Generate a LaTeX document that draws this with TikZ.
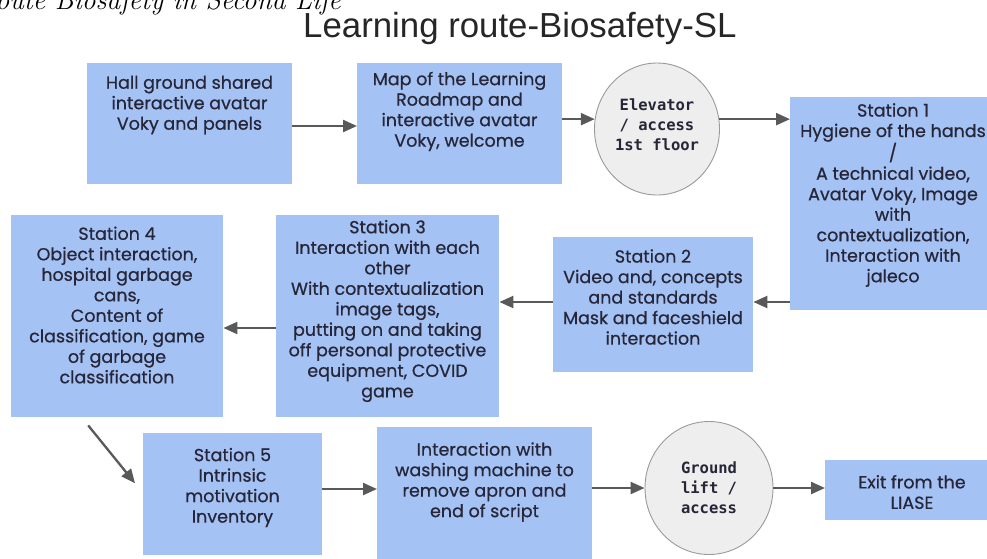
\documentclass[tikz,border=0pt]{standalone}
\usepackage{fontspec}
\newfontfamily\boxfont{Poppins}[FakeBold=0.6]
\newfontfamily\titlefont{Liberation Sans}
\newfontfamily\monofont{DejaVu Sans Mono}
\usetikzlibrary{arrows.meta,shapes.geometric}
\definecolor{boxblue}{HTML}{A4C2F4}
\definecolor{arrgray}{HTML}{595959}
\definecolor{txtc}{HTML}{262638}
\definecolor{circfill}{HTML}{EEEEEE}
\definecolor{circline}{HTML}{9A9A9A}
\tikzset{
  bluebox/.style={fill=boxblue, draw=none, anchor=north west, inner sep=0pt},
  btxt/.style={font=\boxfont\fontsize{17.5}{20.5}\selectfont, text=txtc, align=center, inner sep=0pt},
  circ/.style={ellipse, fill=circfill, draw=circline, line width=0.9pt, inner sep=0pt},
  ctxt/.style={font=\monofont\bfseries\fontsize{15.5}{20}\selectfont, text=txtc, align=center, inner sep=0pt},
  arr/.style={draw=arrgray, line width=2.3pt, -{Triangle[length=14pt,width=12pt]}},
}
\begin{document}
\begin{tikzpicture}[x=1pt,y=-1pt]
\useasboundingbox (0,0) rectangle (987,558);
% caption and title
\node[anchor=base east, font=\fontsize{27.5}{30}\selectfont\itshape, inner sep=0pt] (cap) at (341,9) {oute Biosafety in Second Life};
\node[anchor=base west, font=\titlefont\fontsize{34.8}{40}\selectfont, text=black!85, inner sep=0pt] (title) at (303,37) {Learning route-Biosafety-SL};
% top row
\node[bluebox, minimum width=205pt, minimum height=121pt] (b1) at (87,63) {};
\node[btxt] (b1t) at (189.5,105) {Hall ground shared\\interactive avatar\\Voky and panels};
\node[bluebox, minimum width=205pt, minimum height=121pt] (b2) at (357,63) {};
\node[btxt] (b2t) at (459.5,111.5) {Map of the Learning\\Roadmap and\\interactive avatar\\Voky, welcome};
\node[circ, minimum width=125pt, minimum height=132pt] (elev) at (657,129) {};
\node[ctxt] (elevt) at (657,125) {Elevator\\/ access\\1st floor};
\node[bluebox, minimum width=206pt, minimum height=213pt] (st1) at (790,97) {};
\node[btxt] (st1t) at (893,195) {Station 1\\Hygiene of the hands\\/\\A technical video,\\Avatar Voky, Image\\with\\contextualization,\\Interaction with\\jaleco};
% middle row
\node[bluebox, minimum width=200pt, minimum height=135pt] (st2) at (553,237) {};
\node[btxt] (st2t) at (653,297) {Station 2\\Video and, concepts\\and standards\\Mask and faceshield\\interaction};
\node[bluebox, minimum width=223pt, minimum height=202pt] (st3) at (276,215) {};
\node[btxt] (st3t) at (387.5,311) {Station 3\\Interaction with each\\other\\With contextualization\\image tags,\\putting on and taking\\off personal protective\\equipment, COVID\\game};
\node[bluebox, minimum width=212pt, minimum height=202pt] (st4) at (11,215) {};
\node[btxt] (st4t) at (117,305) {Station 4\\Object interaction,\\hospital garbage\\cans,\\Content of\\classification, game\\of garbage\\classification};
% bottom row
\node[bluebox, minimum width=179pt, minimum height=122pt] (st5) at (143,433) {};
\node[btxt] (st5t) at (232.5,487.5) {Station 5\\Intrinsic\\motivation\\Inventory};
\node[bluebox, minimum width=215pt, minimum height=140pt] (wash) at (377,427) {};
\node[btxt] (washt) at (484.5,482) {Interaction with\\washing machine to\\remove apron and\\end of script};
\node[circ, minimum width=128pt, minimum height=133pt] (ground) at (709,488) {};
\node[ctxt] (groundt) at (709,488) {Ground\\lift /\\access};
\node[bluebox, minimum width=174pt, minimum height=60pt] (exit) at (825,460) {};
\node[btxt] (exitt) at (912,492) {Exit from the\\LIASE};
% arrow levels
\coordinate (ya) at (0,126);
\coordinate (yc) at (0,302);
\coordinate (yd) at (0,328);
\coordinate (ye) at (0,489);
\coordinate (d1) at ([xshift=-29pt,yshift=-8pt]st4.south);
\coordinate (d2) at ([xshift=-8pt,yshift=11pt]st5.west);
% connectors
\draw[arr] (b1.east |- ya) -- (b2.west |- ya);
\draw[arr] (b2.east |- elev.171) -- (elev.171);
\draw[arr] (elev.9) -- (st1.west |- elev.9);
\draw[arr] (st1.west |- yc) -- (st2.east |- yc);
\draw[arr] (st2.west |- yc) -- (st3.east |- yc);
\draw[arr] (st3.west |- yd) -- (st4.east |- yd);
\draw[arr] (d1) -- (d2);
\draw[arr] (st5.east |- ye) -- (wash.west |- ye);
\draw[arr] (wash.east |- ground.west) -- (ground.west);
\draw[arr] (ground.east) -- (exit.west |- ground.east);
\end{tikzpicture}
\end{document}
